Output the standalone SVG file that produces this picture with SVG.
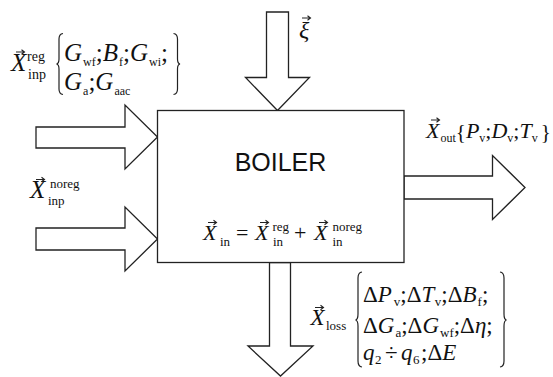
<svg xmlns="http://www.w3.org/2000/svg" width="553" height="377" viewBox="0 0 553 377">
<style>
.blk{fill:#fff;stroke:#222;stroke-width:1.3;stroke-linejoin:miter}
.br{fill:none;stroke:#222;stroke-width:1.2}
.vec{fill:none;stroke:#222;stroke-width:1.1}
.m{font-family:"Liberation Serif","Times New Roman",serif;fill:#111}
.i{font-style:italic}
.s{font-size:13px}
.s12{font-size:12px}
.s14{font-size:14px}
.t25{font-size:25px}
.t24{font-size:24px}
.t23{font-size:23px}
.t22{font-size:22px}
.sans{font-family:"Liberation Sans",Arial,sans-serif;fill:#111}
</style>
<defs>
<path id="va" d="M0,0 H8.5 M5.5,-2.2 L8.5,0 L5.5,2.2" class="vec"/>
</defs>
<rect width="553" height="377" fill="#fff"/>
<g id="connectors">
<polygon class="blk" points="36,127 125,127 125,105 157.5,137 125,169 125,148 36,148"/>
<polygon class="blk" points="36,228 125,228 125,207 157.5,239 125,271 125,250 36,250"/>
<polygon class="blk" points="266.5,12 288.5,12 288.5,77.5 309.5,77.5 277.5,110.5 245.5,77.5 266.5,77.5"/>
<polygon class="blk" points="404,176 492.5,176 492.5,155.5 525,187.5 492.5,219.5 492.5,199 404,199"/>
<polygon class="blk" points="269.5,262.5 290.5,262.5 290.5,346 313,346 280.5,376 248,346 269.5,346"/>
</g>
<g id="boiler">
<rect class="blk" x="157.5" y="110.5" width="246.5" height="152"/>
<text class="sans" x="280.5" y="171" font-size="25" text-anchor="middle">BOILER</text>
<g id="eq-in">
<text class="m i t22" x="203" y="240">X</text>
<use href="#va" x="208" y="222.5"/>
<text class="m s" x="220" y="246">in</text>
<text class="m t22" x="236" y="240">=</text>
<text class="m i t22" x="255" y="240">X</text>
<use href="#va" x="260" y="222.5"/>
<text class="m s" x="272.5" y="231">reg</text>
<text class="m s" x="273" y="246">in</text>
<text class="m t22" x="294" y="240">+</text>
<text class="m i t22" x="314" y="240">X</text>
<use href="#va" x="319" y="222.5"/>
<text class="m s" x="332.5" y="231">noreg</text>
<text class="m s" x="332.5" y="246">in</text>
</g>
</g>
<g id="label-reg">
<text class="m i t25" x="11" y="71">X</text>
<use href="#va" x="16" y="52"/>
<text class="m s14" x="27" y="61">reg</text>
<text class="m s14" x="28" y="79">inp</text>
<path class="br" d="M63,33.5 Q59,34 59,39 V59 Q59,63.5 56.5,64 Q59,64.5 59,69 V89 Q59,94 63,94.5"/>
<text class="m t25" x="64" y="61"><tspan class="i">G</tspan><tspan class="s12" dx="1" dy="5">wf</tspan><tspan dy="-5">;</tspan><tspan class="i">B</tspan><tspan class="s12" dx="1" dy="5">f</tspan><tspan dy="-5">;</tspan><tspan class="i">G</tspan><tspan class="s12" dx="1" dy="5">wi</tspan><tspan dy="-5">;</tspan></text>
<text class="m t25" x="64" y="90"><tspan class="i">G</tspan><tspan class="s12" dx="1" dy="5">a</tspan><tspan dy="-5">;</tspan><tspan class="i">G</tspan><tspan class="s12" dx="1" dy="5">aac</tspan></text>
<path class="br" d="M173.5,33.5 Q177.5,34 177.5,39 V59 Q177.5,63.5 180,64 Q177.5,64.5 177.5,69 V89 Q177.5,94 173.5,94.5"/>
</g>
<g id="label-noreg">
<text class="m i t25" x="30" y="198">X</text>
<use href="#va" x="36" y="179.5"/>
<text class="m s" x="50" y="188">noreg</text>
<text class="m s" x="48" y="204.5">inp</text>
</g>
<g id="label-xi">
<text class="m i t24" x="299" y="38">ξ</text>
<use href="#va" x="302" y="18"/>
</g>
<g id="label-out">
<use href="#va" x="431" y="120"/>
<text class="m t22" x="426" y="138"><tspan class="i">X</tspan><tspan class="s12" dx="1" dy="4">out</tspan><tspan font-size="21" dy="-3">{</tspan><tspan class="i" dy="-1">P</tspan><tspan class="s12" dy="4">v</tspan><tspan dy="-4">;</tspan><tspan class="i">D</tspan><tspan class="s12" dy="4">v</tspan><tspan dy="-4">;</tspan><tspan class="i">T</tspan><tspan class="s12" dy="4">v</tspan><tspan font-size="21" dx="3" dy="-3">}</tspan></text>
</g>
<g id="label-loss">
<text class="m i t23" x="310.5" y="325">X</text>
<use href="#va" x="315" y="307.5"/>
<text class="m s" x="326" y="330">loss</text>
<path class="br" d="M362,272 Q358,272.5 358,278 V314 Q358,319.5 355.5,320 Q358,320.5 358,326 V361 Q358,366.5 362,367"/>
<text class="m t23" x="363" y="302">Δ<tspan class="i">P</tspan><tspan class="s" dx="2" dy="4">v</tspan><tspan dy="-4">;Δ</tspan><tspan class="i">T</tspan><tspan class="s" dx="0.5" dy="4">v</tspan><tspan dy="-4">;Δ</tspan><tspan class="i">B</tspan><tspan class="s" dx="1" dy="4">f</tspan><tspan dy="-4">;</tspan></text>
<text class="m t23" x="363" y="333">Δ<tspan class="i">G</tspan><tspan class="s" dx="1" dy="4">a</tspan><tspan dy="-4">;Δ</tspan><tspan class="i">G</tspan><tspan class="s" dx="1" dy="4">wf</tspan><tspan dy="-4">;Δ</tspan><tspan class="i">η</tspan><tspan>;</tspan></text>
<text class="m t23" y="360"><tspan class="i" x="363">q</tspan><tspan class="s" x="375" y="364">2</tspan><tspan x="385" y="360">÷</tspan><tspan class="i" x="401">q</tspan><tspan class="s" x="413" y="364">6</tspan><tspan x="421" y="360">;Δ</tspan><tspan class="i">E</tspan></text>
<path class="br" d="M500,272 Q504,272.5 504,278 V314 Q504,319.5 506.5,320 Q504,320.5 504,326 V361 Q504,366.5 500,367"/>
</g>
</svg>
